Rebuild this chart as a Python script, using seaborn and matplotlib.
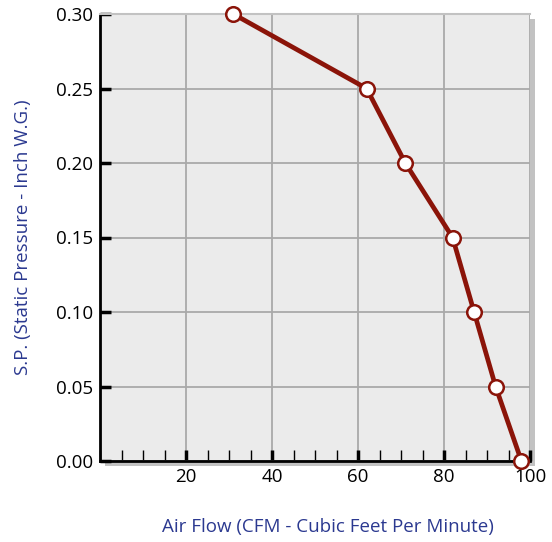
import pandas as pd
import matplotlib.pyplot as plt
import matplotlib.patheffects as pe
from matplotlib.ticker import MultipleLocator
import seaborn as sns

# Fan curve values
air_flow = [31, 62, 71, 82, 87, 92, 98]
static_pressure = [0.30, 0.25, 0.20, 0.15, 0.10, 0.05, 0.00]
x_ticks = [20, 40, 60, 80, 100]
y_ticks = [0.00, 0.05, 0.10, 0.15, 0.20, 0.25, 0.30]

df = pd.DataFrame({"Air Flow": air_flow, "Static Pressure": static_pressure})

sns.set_style("white")
plt.rcParams["font.family"] = ["Open Sans", "DejaVu Sans"]

line_color = "#8b1409"
label_color = "#2b3990"

fig = plt.figure(figsize=(5.52, 5.42), dpi=100)
ax = fig.add_axes([100 / 552, 1 - 461 / 542, 430 / 552, 447 / 542])

# panel with drop shadow
ax.set_facecolor("#ebebeb")
ax.patch.set_path_effects([pe.withSimplePatchShadow(offset=(3.5, -3.5), shadow_rgbFace="#c2c2c2", alpha=1.0)])

sns.lineplot(data=df, x="Air Flow", y="Static Pressure", ax=ax, color=line_color,
             linewidth=3.4, marker="o", markersize=10.5, markerfacecolor="white",
             markeredgecolor=line_color, markeredgewidth=1.8, sort=False, clip_on=False, zorder=5)

ax.set_xlim(0, 100)
ax.set_ylim(0, 0.30)
ax.set_xticks(x_ticks)
ax.set_yticks(y_ticks)
ax.set_yticklabels([f"{v:.2f}" for v in y_ticks])
ax.xaxis.set_minor_locator(MultipleLocator(5))

ax.grid(True, which="major", color="#a9a9a9", linewidth=1.3)
ax.set_axisbelow(True)

for side in ["left", "bottom"]:
    ax.spines[side].set_color("black")
    ax.spines[side].set_linewidth(2)
ax.spines["top"].set_color("#c2c2c2")
ax.spines["top"].set_linewidth(1.5)
ax.spines["right"].set_visible(False)

ax.tick_params(axis="both", which="major", direction="in", length=8, width=2.5,
               color="black", labelsize=13.5, labelcolor="black", pad=5)
ax.tick_params(axis="x", which="both", bottom=True)
ax.tick_params(axis="x", which="minor", direction="in", length=8, width=1, color="black")
ax.tick_params(axis="y", which="major", left=True)

ax.set_xlabel("Air Flow (CFM - Cubic Feet Per Minute)", color=label_color, fontsize=13.5)
ax.set_ylabel("S.P. (Static Pressure - Inch W.G.)", color=label_color, fontsize=13.5)
ax.xaxis.set_label_coords(0.53, -0.128)
ax.yaxis.set_label_coords(-0.158, 0.5)

plt.savefig("out.png", dpi=100)
